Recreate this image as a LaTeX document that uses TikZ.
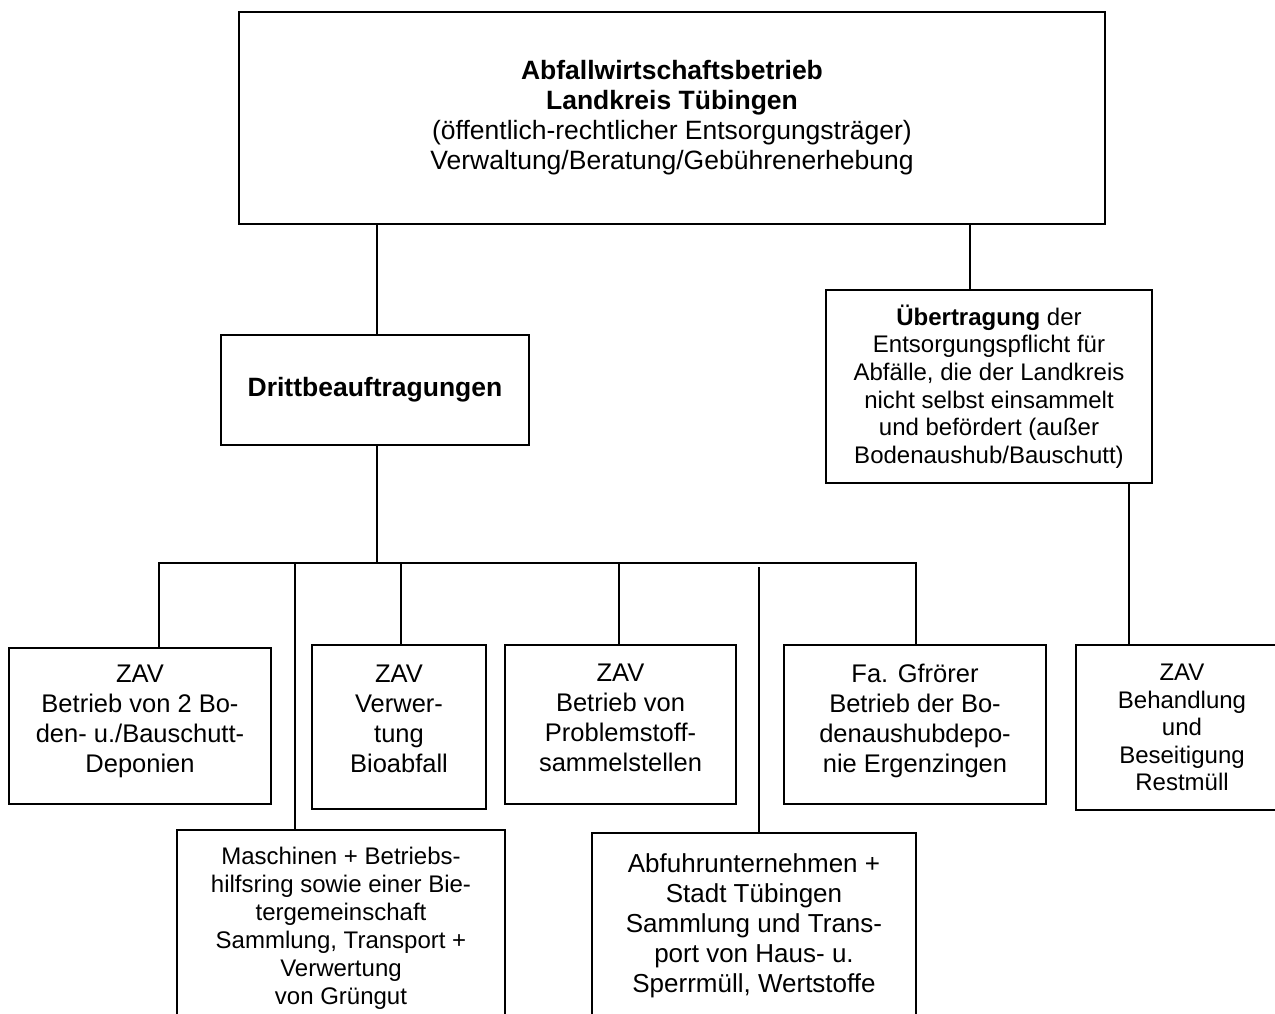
\documentclass[tikz,border=0pt]{standalone}
\usepackage{fontspec}
\setmainfont{Liberation Sans}
\newcommand{\dropdepth}[1]{\rule[-#1pt]{0pt}{0pt}}
\begin{document}
\begin{tikzpicture}[x=1pt,y=-1pt,
  orgbox/.style={draw, line width=1.7pt, rectangle, align=center, inner sep=2pt},
  conn/.style={line width=1.4pt},
  fa/.style={font=\fontsize{26.5}{30}\selectfont},
  fb/.style={font=\fontsize{25.5}{30}\selectfont},
  fc/.style={font=\fontsize{24}{27.6}\selectfont},
]
\useasboundingbox (0,0) rectangle (1275,1014);
\clip (0,0) rectangle (1275,1014);

\node[orgbox, fa, minimum width=866pt, minimum height=212pt] (top) at (672,118)
  {\textbf{Abfallwirtschaftsbetrieb}\\\textbf{Landkreis Tübingen}\\(öffentlich-rechtlicher Entsorgungsträger)\\Verwaltung/Beratung/Gebührenerhebung};

\node[orgbox, fa, minimum width=308pt, minimum height=110pt] (dritt) at (375,390)
  {\textbf{Drittbeauftragungen}};

\node[orgbox, fc, minimum width=326pt, minimum height=193pt] (ueb) at (989,386.5)
  {\textbf{Übertragung} der\\Entsorgungspflicht für\\Abfälle, die der Landkreis\\nicht selbst einsammelt\\und befördert (außer\\Bodenaushub/Bauschutt)};

\node[orgbox, fb, minimum width=262pt, minimum height=156pt] (b1) at (140,726)
  {ZAV\\Betrieb von 2 Bo-\\den- u./Bauschutt-\\Deponien\dropdepth{15}};
\node[orgbox, fb, minimum width=174pt, minimum height=164pt] (b2) at (399,727)
  {ZAV\\Verwer-\\tung\\Bioabfall\dropdepth{17}};
\node[orgbox, fb, minimum width=231pt, minimum height=159pt] (b3) at (620.5,724.5)
  {ZAV\\Betrieb von\\Problemstoff-\\sammelstellen\dropdepth{13}};
\node[orgbox, fb, minimum width=262pt, minimum height=159pt] (b4) at (915,724.5)
  {Fa. Gfrörer\\Betrieb der Bo-\\denaushubdepo-\\nie Ergenzingen\dropdepth{13}};
\node[orgbox, fc, minimum width=212pt, minimum height=165pt] (b5) at (1182,727.5)
  {ZAV\\Behandlung\\und\\Beseitigung\\Restmüll};

\node[orgbox, font=\fontsize{24}{28}\selectfont, anchor=north, inner ysep=17pt, minimum width=328pt] (masch) at (341,829)
  {Maschinen + Betriebs-\\hilfsring sowie einer Bie-\\tergemeinschaft\\Sammlung, Transport +\\Verwertung\\von Grüngut\dropdepth{150}};
\node[orgbox, font=\fontsize{26}{30}\selectfont, anchor=north, inner ysep=21pt, minimum width=324pt] (abf) at (754,832)
  {Abfuhrunternehmen +\\Stadt Tübingen\\Sammlung und Trans-\\port von Haus- u.\\Sperrmüll, Wertstoffe\dropdepth{150}};

% connectors
\coordinate (dn) at ([xshift=2pt]dritt.north);
\coordinate (ds) at ([xshift=2pt]dritt.south);
\draw[conn] (dn) -- (dn |- top.south);
\coordinate (u1) at ([xshift=-19pt]ueb.north);
\draw[conn] (u1) -- (u1 |- top.south);

\coordinate (busL) at (158,563);
\coordinate (busR) at (916,563);
\draw[conn] (ds) -- (ds |- busL);
\draw[conn] (busL) -- (busR) -- (busR |- b4.north);

\coordinate (d1) at (159,563);
\coordinate (dm) at (295,563);
\coordinate (d2) at (401,563);
\coordinate (d3) at (619,563);
\coordinate (da) at (759,567);
\draw[conn] (d1) -- (d1 |- b1.north);
\draw[conn] (dm) -- (dm |- masch.north);
\draw[conn] (d2) -- (d2 |- b2.north);
\draw[conn] (d3) -- (d3 |- b3.north);
\draw[conn] (da) -- (da |- abf.north);

\coordinate (u2) at ([xshift=140pt]ueb.south);
\draw[conn] (u2) -- (u2 |- b5.north);
\end{tikzpicture}
\end{document}
